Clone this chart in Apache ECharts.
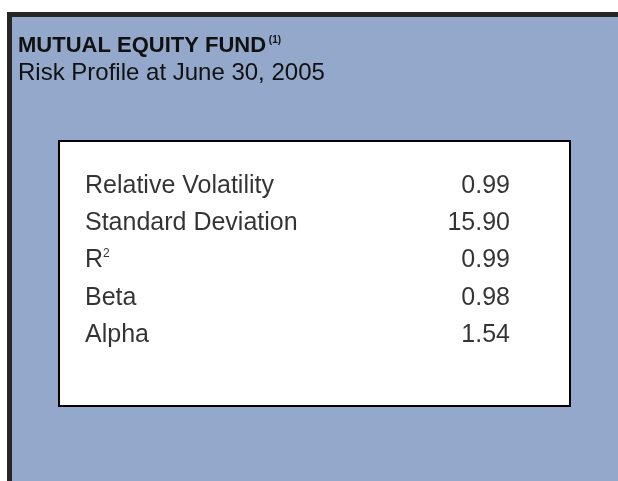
<!DOCTYPE html>
<html><head><meta charset="utf-8">
<script src="https://cdn.jsdelivr.net/npm/echarts@6/dist/echarts.min.js"></script>
<style>html,body{margin:0;padding:0;background:#fff}#c{width:618px;height:481px}</style>
</head><body><div id="c"></div>
<script>
const titleText = 'MUTUAL EQUITY FUND';
const titleNote = '(1)';
const subtitleText = 'Risk Profile at June 30, 2005';
const metrics = ['Relative Volatility', 'Standard Deviation', 'R2', 'Beta', 'Alpha'];
const values = [0.99, 15.90, 0.99, 0.98, 1.54];
const columns = ['metric', 'value'];

const chart = echarts.init(document.getElementById('c'), null, {renderer: 'canvas'});
const FONT = '"Liberation Sans", Arial, sans-serif';
const rich = {
  n: {fontFamily: FONT, fontSize: 25, color: '#000'},
  sup: {fontFamily: FONT, fontSize: 12, color: '#000', verticalAlign: 'top', padding: [0, 0, 10, 0]}
};
function nameLabel(s) {
  if (s === 'R2') return '{n|R}{sup|2}';
  return '{n|' + s + '}';
}
chart.setOption({
  backgroundColor: '#ffffff',
  animation: false,
  graphic: [
    {type: 'rect', z: -10, shape: {x: 7, y: 12, width: 620, height: 480}, style: {fill: '#262626'}},
    {type: 'rect', z: -9, shape: {x: 12, y: 17, width: 620, height: 480}, style: {fill: '#93a8ca'}},
    {type: 'rect', z: -8, shape: {x: 59, y: 141, width: 511, height: 265}, style: {fill: '#ffffff', stroke: '#000000', lineWidth: 2}}
  ],
  title: [{
    left: 13, top: 30,
    text: '{t|' + titleText + '}{s| ' + titleNote + '}',
    textStyle: {rich: {
      t: {fontFamily: FONT, fontSize: 22, fontWeight: 'bold', color: '#111'},
      s: {fontFamily: FONT, fontSize: 10, fontWeight: 'bold', color: '#111', verticalAlign: 'top', padding: [0, 0, 12, 0]}
    }}
  }, {
    left: 13, top: 56,
    text: subtitleText,
    textStyle: {fontFamily: FONT, fontSize: 24, fontWeight: 'normal', color: '#111'}
  }],
  grid: {left: 85, right: 108, top: 186, bottom: 146},
  xAxis: {type: 'category', data: columns, boundaryGap: false, show: false},
  yAxis: {type: 'category', data: metrics, boundaryGap: false, inverse: true, show: false},
  series: [
    {
      type: 'scatter', symbolSize: 0, silent: true,
      data: metrics.map((m, i) => [0, i]),
      label: {show: true, position: 'right', distance: 0, align: 'left', verticalAlign: 'middle',
        formatter: p => nameLabel(metrics[p.dataIndex]), rich: rich}
    },
    {
      type: 'scatter', symbolSize: 0, silent: true,
      data: values.map((v, i) => [1, i, v]),
      label: {show: true, position: 'left', distance: 0, align: 'right', verticalAlign: 'middle',
        formatter: p => values[p.dataIndex].toFixed(2),
        fontFamily: FONT, fontSize: 25, color: '#000'}
    }
  ]
});
</script></body></html>
